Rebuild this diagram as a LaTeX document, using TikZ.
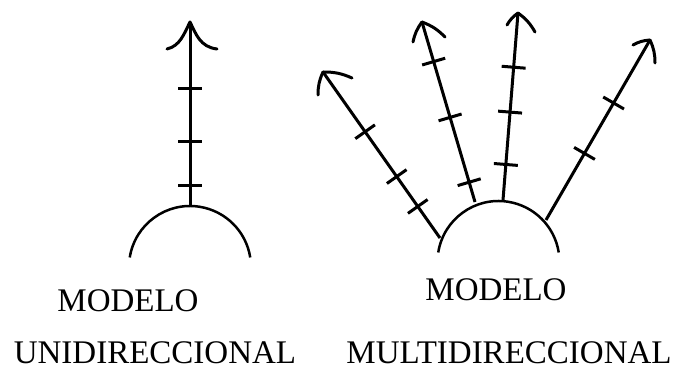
\documentclass[tikz,border=0pt]{standalone}
\usepackage{fontspec}
\setmainfont{Liberation Serif}
\usetikzlibrary{calc}
\newcommand\tickat[3]{%
  \path ($(#1)!#3!(#2)$) coordinate (tkp);
  \draw[tickmark] ($(tkp)!12pt!90:(#2)$) -- ($(tkp)!12pt!-90:(#2)$);}
\begin{document}
\begin{tikzpicture}[x=1pt,y=-1pt,
  shaft/.style={line width=3pt},
  wing/.style={line width=3pt,line cap=round,line join=round},
  tickmark/.style={line width=3pt},
  dome/.style={line width=2.5pt},
  lbl/.style={font=\fontsize{33}{36}\selectfont,inner sep=0pt,anchor=base}]
\useasboundingbox (0,0) rectangle (683,369);

% domes
\coordinate (cl) at (190,267);
\coordinate (cr) at (498.5,262);
\draw[dome] ([shift={(171:61pt)}]cl) arc[start angle=171,end angle=9,radius=61pt];
\draw[dome] ([shift={(171:61pt)}]cr) arc[start angle=171,end angle=9,radius=61pt];

% unidirectional arrow
\coordinate (ub) at (190,206);
\coordinate (ut) at (190,22);
\coordinate (uw1) at (167,49);
\coordinate (uw2) at (217,49);
\draw[shaft] (ub) -- (ut);
\draw[wing] (ut) .. controls (184,34) and (180,46) .. (uw1);
\draw[wing] (ut) .. controls (196,34) and (200,47) .. (uw2);
\tickat{ub}{ut}{0.636}
\tickat{ub}{ut}{0.348}
\tickat{ub}{ut}{0.114}

% multidirectional arrows
\coordinate (b1) at (440,238); \coordinate (t1) at (323,72);
\coordinate (b2) at (475,202); \coordinate (t2) at (422,22);
\coordinate (b3) at (503,200); \coordinate (t3) at (518,13);
\coordinate (b4) at (546,220); \coordinate (t4) at (650,40);
\coordinate (w1a) at (318,95);  \coordinate (w1b) at (352,78);
\coordinate (w2a) at (413,42);  \coordinate (w2b) at (445,37);
\coordinate (w3a) at (507,25);  \coordinate (w3b) at (535,32);
\coordinate (w4a) at (633,45);  \coordinate (w4b) at (655,63);
\foreach \i in {1,2,3,4}{
  \draw[shaft] (b\i) -- (t\i);
  \draw[wing] (t\i) to[bend right=12] (w\i a);
  \draw[wing] (t\i) to[bend left=12] (w\i b);
}
\tickat{b1}{t1}{0.64}\tickat{b1}{t1}{0.37}\tickat{b1}{t1}{0.19}
\tickat{b2}{t2}{0.78}\tickat{b2}{t2}{0.47}\tickat{b2}{t2}{0.11}
\tickat{b3}{t3}{0.71}\tickat{b3}{t3}{0.47}\tickat{b3}{t3}{0.19}
\tickat{b4}{t4}{0.65}\tickat{b4}{t4}{0.37}

% labels
\node[lbl] (m1) at (128,311) {MODELO};
\node[lbl] (u1) at (155,363) {UNIDIRECCIONAL};
\node[lbl] (m2) at (496,300) {MODELO};
\node[lbl] (u2) at (509,363) {MULTIDIRECCIONAL};
\end{tikzpicture}
\end{document}
